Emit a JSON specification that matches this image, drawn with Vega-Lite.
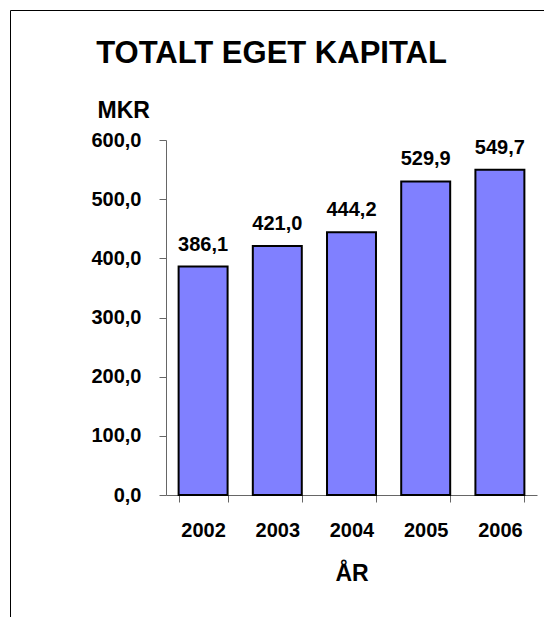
{
  "$schema": "https://vega.github.io/schema/vega-lite/v6.json",
  "width": 535,
  "height": 608,
  "autosize": {"type": "none"},
  "padding": {"left": 10, "top": 10, "right": 0, "bottom": 0},
  "background": "white",
  "config": {
    "locale": {"number": {"decimal": ",", "thousands": " ", "grouping": [3], "currency": ["", " kr"]}},
    "font": "Liberation Sans",
    "view": {"stroke": "#000000", "strokeWidth": 1}
  },
  "title": {
    "text": "TOTALT EGET KAPITAL",
    "fontSize": 31,
    "fontWeight": "bold",
    "font": "Liberation Sans",
    "color": "#000000",
    "anchor": "middle",
    "frame": "group",
    "baseline": "alphabetic",
    "offset": 0,
    "dx": -6,
    "dy": 84
  },
  "data": {
    "values": [
      {"year": "2002", "value": 386.1},
      {"year": "2003", "value": 421.0},
      {"year": "2004", "value": 444.2},
      {"year": "2005", "value": 529.9},
      {"year": "2006", "value": 549.7}
    ]
  },
  "encoding": {
    "x": {
      "field": "year",
      "type": "ordinal",
      "scale": {"range": [156, 527], "paddingInner": 0.34, "paddingOuter": 0.17},
      "axis": {
        "title": "ÅR",
        "orient": "bottom",
        "offset": -123,
        "labelAngle": 0,
        "tickBand": "extent",
        "domainColor": "#666666",
        "tickColor": "#666666",
        "tickSize": 7,
        "labelFontSize": 20,
        "labelFontWeight": "bold",
        "labelColor": "#000000",
        "labelBaseline": "alphabetic",
        "labelPadding": 34,
        "titleFontSize": 23,
        "titleFontWeight": "bold",
        "titleColor": "#000000",
        "titleBaseline": "alphabetic",
        "titleY": 85,
        "grid": false
      }
    },
    "y": {
      "field": "value",
      "type": "quantitative",
      "scale": {"domain": [0, 600], "range": [485, 130], "nice": false},
      "axis": {
        "title": "MKR",
        "orient": "left",
        "offset": -156,
        "values": [0, 100, 200, 300, 400, 500, 600],
        "format": ".1f",
        "domainColor": "#666666",
        "tickColor": "#666666",
        "tickSize": 7,
        "labelPadding": 18,
        "labelFontSize": 20,
        "labelFontWeight": "bold",
        "labelColor": "#000000",
        "titleAngle": 0,
        "titleAlign": "left",
        "titleBaseline": "alphabetic",
        "titleX": -69,
        "titleY": 107,
        "titleFontSize": 23,
        "titleFontWeight": "bold",
        "titleColor": "#000000",
        "grid": false
      }
    }
  },
  "layer": [
    {"mark": {"type": "bar", "fill": "#8080FF", "stroke": "#000000", "strokeWidth": 2}},
    {
      "mark": {"type": "text", "baseline": "alphabetic", "dy": -16, "fontSize": 20, "fontWeight": "bold", "color": "#000000"},
      "encoding": {"text": {"field": "value", "type": "quantitative", "format": ".1f"}}
    }
  ]
}
